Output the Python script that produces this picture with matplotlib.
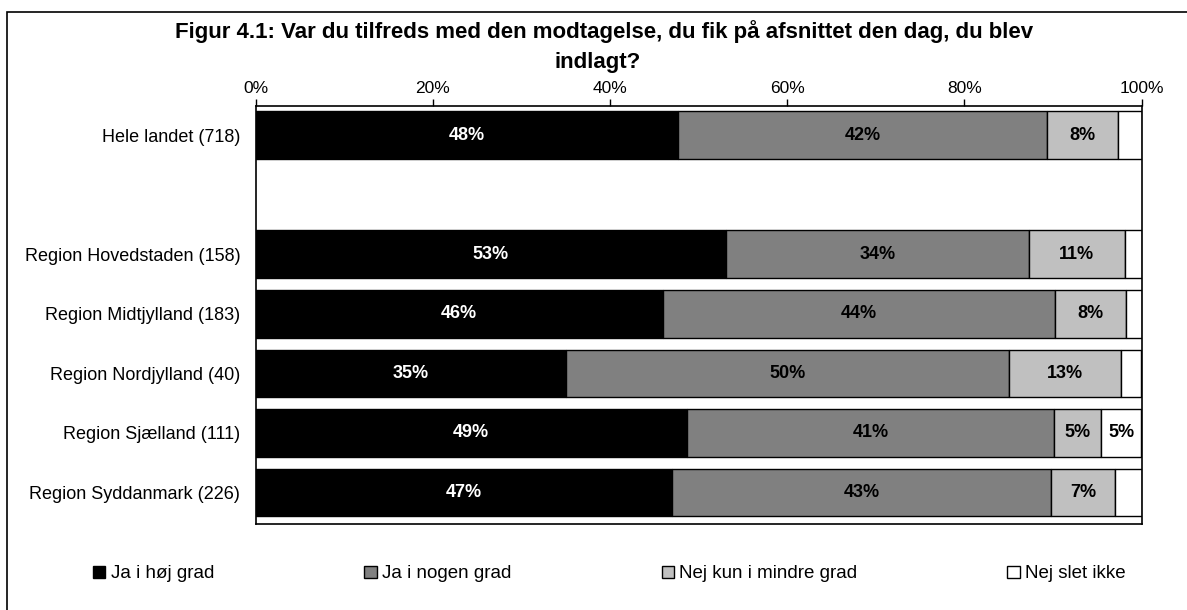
import matplotlib
matplotlib.use("Agg")
import matplotlib.pyplot as plt
from matplotlib import font_manager
from matplotlib.patches import Rectangle, Patch

names = {f.name for f in font_manager.fontManager.ttflist}
FONT = "Liberation Sans" if "Liberation Sans" in names else "DejaVu Sans"
plt.rcParams['font.family'] = [FONT, 'DejaVu Sans']

categories = ["Hele landet (718)", "", "Region Hovedstaden (158)", "Region Midtjylland (183)",
              "Region Nordjylland (40)", "Region Sjælland (111)", "Region Syddanmark (226)"]
series_names = ["Ja i høj grad", "Ja i nogen grad", "Nej kun i mindre grad", "Nej slet ikke"]
ja_hoej = [47.7, None, 53.1, 46.0, 35.1, 48.7, 47.0]
ja_nogen = [41.6, None, 34.2, 44.2, 50.0, 41.4, 42.8]
nej_mindre = [8.1, None, 10.8, 8.1, 12.6, 5.3, 7.2]
nej_slet = [2.6, None, 1.9, 1.7, 2.3, 4.6, 3.0]
colors = ["#000000", "#808080", "#C0C0C0", "#FFFFFF"]
text_colors = ["white", "black", "black", "black"]
xticks = [0, 20, 40, 60, 80, 100]
title_lines = ["Figur 4.1: Var du tilfreds med den modtagelse, du fik på afsnittet den dag, du blev",
               "indlagt?"]

fig = plt.figure(figsize=(11.87, 6.10), dpi=100)
ax = fig.add_axes([255.5/1187, 1-524/610, (1141.5-255.5)/1187, (524-106)/610])

series = [ja_hoej, ja_nogen, nej_mindre, nej_slet]
ypos = list(range(len(categories)))
left = [0.0]*len(categories)
for s, vals in enumerate(series):
    for i, v in enumerate(vals):
        if v is None:
            continue
        ax.barh(i, v, left=left[i], height=0.8, color=colors[s], edgecolor="black", linewidth=1.0)
        if v >= 4.5:
            ax.text(left[i] + v/2, i, f"{round(v)}%", ha="center", va="center",
                    color=text_colors[s], fontsize=13, fontweight="bold")
        left[i] += v

ax.set_xlim(0, 100)
ax.set_ylim(6.53, -0.49)
ax.set_yticks(ypos)
ax.set_yticklabels(categories, fontsize=13)
ax.tick_params(axis="y", length=0, pad=11)
ax.xaxis.tick_top()
ax.set_xticks(xticks)
ax.set_xticklabels([f"{t}%" for t in xticks], fontsize=12.5)
ax.tick_params(axis="x", length=5, width=1, direction="out", pad=2)
for sp in ax.spines.values():
    sp.set_linewidth(1.2)
    sp.set_color("black")

fig.text(604/1187, 1-38/610, title_lines[0], ha="center", va="baseline", fontsize=16, fontweight="bold")
fig.text(598/1187, 1-68/610, title_lines[1], ha="center", va="baseline", fontsize=16, fontweight="bold")

handles = [Patch(facecolor=c, edgecolor="black", linewidth=1.0) for c in colors]
fig.legend(handles, series_names, loc="center", bbox_to_anchor=(609.5/1187, 1-574/610), ncol=4,
           frameon=False, fontsize=13.5, handlelength=0.65, handleheight=0.65, handletextpad=0.3,
           columnspacing=8.0)

fig.patches.append(Rectangle((7/1187, -0.1), 1.2, 1-12/610+0.1, transform=fig.transFigure,
                             fill=False, edgecolor="black", linewidth=1.2))
fig.savefig("out.png", dpi=100)
